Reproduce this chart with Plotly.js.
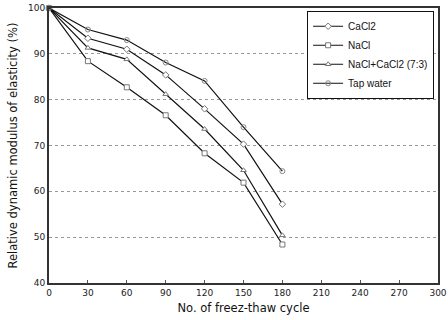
<!DOCTYPE html>
<html>
<head>
<meta charset="utf-8">
<script src="https://cdn.plot.ly/plotly-3.0.1.min.js"></script>
<style>html,body{margin:0;padding:0;background:#fff;}#chart{width:448px;height:320px;}</style>
</head>
<body>
<div id="chart"></div>
<script>
const cycles = [0, 30, 60, 90, 120, 150, 180];
const cacl2 = [100, 93.4, 91.0, 85.4, 78.0, 70.3, 57.2];
const nacl = [100, 88.4, 82.7, 76.6, 68.3, 61.9, 48.4];
const mix = [100, 91.3, 88.8, 81.2, 73.6, 64.6, 50.4];
const tap = [100, 95.3, 93.0, 88.1, 84.1, 74.0, 64.4];
const seriesNames = ["CaCl2", "NaCl", "NaCl+CaCl2 (7:3)", "Tap water"];
const xTicks = [0, 30, 60, 90, 120, 150, 180, 210, 240, 270, 300];
const yTicks = [40, 50, 60, 70, 80, 90, 100];

function tr(y, name, sym, fill, mcol) {
  return {
    x: cycles, y: y, name: name, type: 'scatter', mode: 'lines+markers',
    line: {color: '#111', width: 1.2},
    marker: {symbol: sym, size: 5, color: fill, line: {color: mcol, width: 1}},
    cliponaxis: false
  };
}
const data = [
  tr(cacl2, seriesNames[0], 'diamond', '#fff', '#777'),
  tr(nacl, seriesNames[1], 'square', '#fff', '#777'),
  tr(mix, seriesNames[2], 'triangle-up', '#fff', '#777'),
  tr(tap, seriesNames[3], 'circle-open', '#888', '#888')
];
const fam = 'DejaVu Sans, Arial, sans-serif';
const layout = {
  width: 448, height: 320,
  margin: {l: 49, r: 10, t: 8, b: 37},
  paper_bgcolor: '#fff', plot_bgcolor: '#fff',
  font: {size: 10, family: fam, color: '#111'},
  showlegend: true,
  legend: {
    x: 0.99, y: 0.99, xanchor: 'right', yanchor: 'top',
    bgcolor: '#fff', bordercolor: '#111', borderwidth: 1,
    font: {size: 10, family: 'Liberation Sans, Arial, sans-serif', color: '#111'},
    tracegroupgap: 0, itemwidth: 30
  },
  xaxis: {
    range: [0, 300], tickvals: xTicks, ticktext: xTicks.map(String),
    ticks: 'inside', ticklen: 3, tickcolor: '#555', ticklabeloverflow: 'allow',
    showgrid: false, zeroline: false,
    showline: true, linecolor: '#333', linewidth: 2, mirror: true,
    tickfont: {size: 9, color: '#222', family: fam},
    title: {text: 'No. of freez-thaw cycle', font: {size: 11.5, color: '#111', family: fam}, standoff: 7}
  },
  yaxis: {
    range: [40, 100], tickvals: yTicks, ticktext: yTicks.map(String),
    ticks: '', showgrid: true, gridcolor: '#999', griddash: 'dot', gridwidth: 1,
    zeroline: false,
    showline: true, linecolor: '#333', linewidth: 2, mirror: true,
    tickfont: {size: 9, color: '#222', family: fam},
    title: {text: 'Relative dynamic modulus of elasticity (%)', font: {size: 11.5, color: '#111', family: fam}, standoff: 8}
  }
};
Plotly.newPlot('chart', data, layout, {staticPlot: true, displayModeBar: false});
</script>
</body>
</html>
